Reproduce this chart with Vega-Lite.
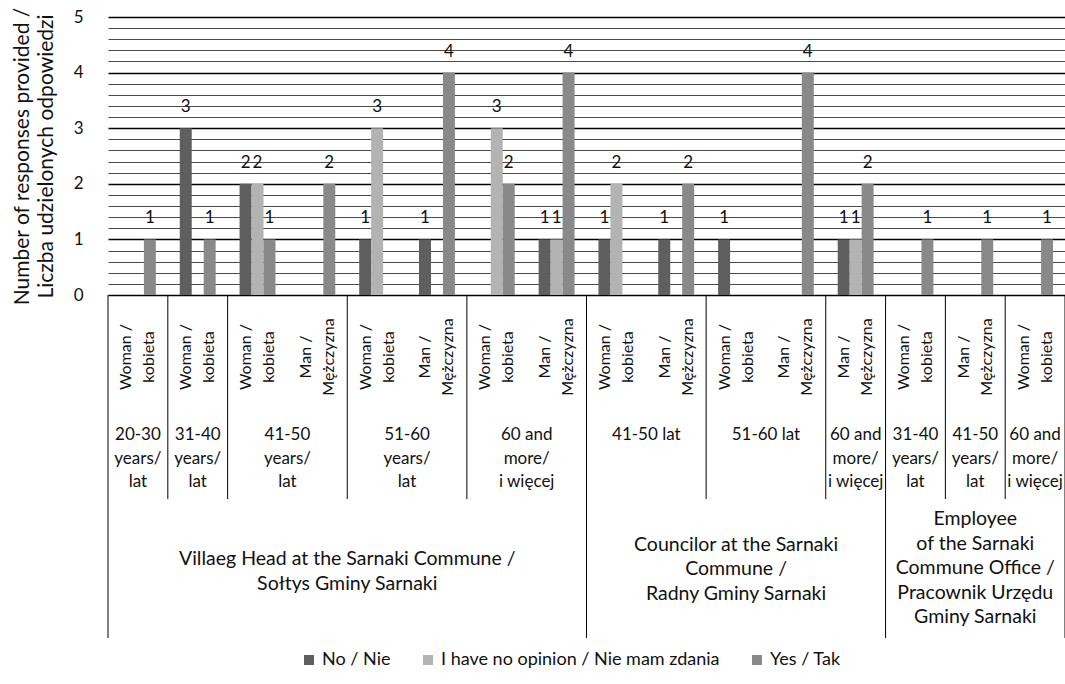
{
  "$schema": "https://vega.github.io/schema/vega-lite/v6.json",
  "padding": {"top": 6, "left": 11, "right": 0, "bottom": 5},
  "background": "white",
  "bounds": "flush",
  "spacing": 0,
  "config": {
    "font": "Lato",
    "view": {"stroke": null},
    "text": {"font": "Lato", "fontSize": 17, "color": "#111111"},
    "legend": {"labelFont": "Lato", "labelFontSize": 18, "labelColor": "#111111"}
  },
  "datasets": {
    "bars": [
      {"leaf": 1, "answer": "Yes / Tak", "n": 1},
      {"leaf": 2, "answer": "No / Nie", "n": 3},
      {"leaf": 2, "answer": "Yes / Tak", "n": 1},
      {"leaf": 3, "answer": "No / Nie", "n": 2},
      {"leaf": 3, "answer": "I have no opinion / Nie mam zdania", "n": 2},
      {"leaf": 3, "answer": "Yes / Tak", "n": 1},
      {"leaf": 4, "answer": "Yes / Tak", "n": 2},
      {"leaf": 5, "answer": "No / Nie", "n": 1},
      {"leaf": 5, "answer": "I have no opinion / Nie mam zdania", "n": 3},
      {"leaf": 6, "answer": "No / Nie", "n": 1},
      {"leaf": 6, "answer": "Yes / Tak", "n": 4},
      {"leaf": 7, "answer": "I have no opinion / Nie mam zdania", "n": 3},
      {"leaf": 7, "answer": "Yes / Tak", "n": 2},
      {"leaf": 8, "answer": "No / Nie", "n": 1},
      {"leaf": 8, "answer": "I have no opinion / Nie mam zdania", "n": 1},
      {"leaf": 8, "answer": "Yes / Tak", "n": 4},
      {"leaf": 9, "answer": "No / Nie", "n": 1},
      {"leaf": 9, "answer": "I have no opinion / Nie mam zdania", "n": 2},
      {"leaf": 10, "answer": "No / Nie", "n": 1},
      {"leaf": 10, "answer": "Yes / Tak", "n": 2},
      {"leaf": 11, "answer": "No / Nie", "n": 1},
      {"leaf": 12, "answer": "Yes / Tak", "n": 4},
      {"leaf": 13, "answer": "No / Nie", "n": 1},
      {"leaf": 13, "answer": "I have no opinion / Nie mam zdania", "n": 1},
      {"leaf": 13, "answer": "Yes / Tak", "n": 2},
      {"leaf": 14, "answer": "Yes / Tak", "n": 1},
      {"leaf": 15, "answer": "Yes / Tak", "n": 1},
      {"leaf": 16, "answer": "Yes / Tak", "n": 1}
    ],
    "leaves": [
      {"leaf": 1, "gender": "Woman /\nkobieta", "age": "20-30\nyears/\nlat", "role": "Villaeg Head at the Sarnaki Commune /\nSołtys Gminy Sarnaki"},
      {"leaf": 2, "gender": "Woman /\nkobieta", "age": "31-40\nyears/\nlat", "role": "Villaeg Head at the Sarnaki Commune /\nSołtys Gminy Sarnaki"},
      {"leaf": 3, "gender": "Woman /\nkobieta", "age": "41-50\nyears/\nlat", "role": "Villaeg Head at the Sarnaki Commune /\nSołtys Gminy Sarnaki"},
      {"leaf": 4, "gender": "Man /\nMężczyzna", "age": "41-50\nyears/\nlat", "role": "Villaeg Head at the Sarnaki Commune /\nSołtys Gminy Sarnaki"},
      {"leaf": 5, "gender": "Woman /\nkobieta", "age": "51-60\nyears/\nlat", "role": "Villaeg Head at the Sarnaki Commune /\nSołtys Gminy Sarnaki"},
      {"leaf": 6, "gender": "Man /\nMężczyzna", "age": "51-60\nyears/\nlat", "role": "Villaeg Head at the Sarnaki Commune /\nSołtys Gminy Sarnaki"},
      {"leaf": 7, "gender": "Woman /\nkobieta", "age": "60 and\nmore/\ni więcej", "role": "Villaeg Head at the Sarnaki Commune /\nSołtys Gminy Sarnaki"},
      {"leaf": 8, "gender": "Man /\nMężczyzna", "age": "60 and\nmore/\ni więcej", "role": "Villaeg Head at the Sarnaki Commune /\nSołtys Gminy Sarnaki"},
      {"leaf": 9, "gender": "Woman /\nkobieta", "age": "41-50 lat", "role": "Councilor at the Sarnaki\nCommune /\nRadny Gminy Sarnaki"},
      {"leaf": 10, "gender": "Man /\nMężczyzna", "age": "41-50 lat", "role": "Councilor at the Sarnaki\nCommune /\nRadny Gminy Sarnaki"},
      {"leaf": 11, "gender": "Woman /\nkobieta", "age": "51-60 lat", "role": "Councilor at the Sarnaki\nCommune /\nRadny Gminy Sarnaki"},
      {"leaf": 12, "gender": "Man /\nMężczyzna", "age": "51-60 lat", "role": "Councilor at the Sarnaki\nCommune /\nRadny Gminy Sarnaki"},
      {"leaf": 13, "gender": "Man /\nMężczyzna", "age": "60 and\nmore/\ni więcej", "role": "Councilor at the Sarnaki\nCommune /\nRadny Gminy Sarnaki"},
      {"leaf": 14, "gender": "Woman /\nkobieta", "age": "31-40\nyears/\nlat", "role": "Employee\nof the Sarnaki\nCommune Office /\nPracownik Urzędu\nGminy Sarnaki"},
      {"leaf": 15, "gender": "Man /\nMężczyzna", "age": "41-50\nyears/\nlat", "role": "Employee\nof the Sarnaki\nCommune Office /\nPracownik Urzędu\nGminy Sarnaki"},
      {"leaf": 16, "gender": "Woman /\nkobieta", "age": "60 and\nmore/\ni więcej", "role": "Employee\nof the Sarnaki\nCommune Office /\nPracownik Urzędu\nGminy Sarnaki"}
    ],
    "bounds": [
      {"at": 0.5, "level": "role"},
      {"at": 1.5, "level": "age"},
      {"at": 2.5, "level": "age"},
      {"at": 4.5, "level": "age"},
      {"at": 6.5, "level": "age"},
      {"at": 8.5, "level": "role"},
      {"at": 10.5, "level": "age"},
      {"at": 12.5, "level": "age"},
      {"at": 13.5, "level": "role"},
      {"at": 14.5, "level": "age"},
      {"at": 15.5, "level": "age"},
      {"at": 16.5, "level": "role"}
    ]
  },
  "vconcat": [
    {
      "width": 957,
      "height": 278,
      "data": {"name": "bars"},
      "encoding": {
        "x": {"field": "leaf", "type": "ordinal", "scale": {"paddingInner": 0.4, "paddingOuter": 0.2}, "axis": null},
        "xOffset": {"field": "answer", "type": "nominal", "scale": {"domain": ["No / Nie", "I have no opinion / Nie mam zdania", "Yes / Tak"]}},
        "y": {
          "field": "n", "type": "quantitative",
          "scale": {"domain": [0, 5], "nice": false},
          "axis": {
            "values": [0, 0.2, 0.4, 0.6, 0.8, 1, 1.2, 1.4, 1.6, 1.8, 2, 2.2, 2.4, 2.6, 2.8, 3, 3.2, 3.4, 3.6, 3.8, 4, 4.2, 4.4, 4.6, 4.8, 5],
            "labelExpr": "datum.value % 1 === 0 ? '' + datum.value : ''",
            "labelOverlap": false,
            "labelFont": "Lato", "labelFontSize": 17, "labelColor": "#111111", "labelPadding": 25,
            "ticks": false, "domain": false,
            "grid": true,
            "gridColor": {"condition": {"test": "datum.value % 1 === 0", "value": "#000000"}, "value": "#4a4a4a"},
            "gridWidth": {"condition": {"test": "datum.value % 1 === 0", "value": 1.6}, "value": 1},
            "title": ["Number of responses provided /", "Liczba udzielonych odpowiedzi"],
            "titleFont": "Lato", "titleFontSize": 21, "titleFontWeight": "normal", "titleColor": "#111111",
            "titleLineHeight": 23.5, "titlePadding": 17
          }
        }
      },
      "layer": [
        {
          "mark": {"type": "bar"},
          "encoding": {
            "color": {
              "field": "answer", "type": "nominal",
              "scale": {"domain": ["No / Nie", "I have no opinion / Nie mam zdania", "Yes / Tak"], "range": ["#5f5f5f", "#b3b3b3", "#898989"]},
              "legend": {"title": null, "orient": "none", "legendX": 192, "legendY": 634, "direction": "horizontal", "symbolType": "square", "symbolSize": 100, "symbolStrokeWidth": 0, "columnPadding": 28, "labelLimit": 0}
            }
          }
        },
        {
          "mark": {"type": "text", "baseline": "alphabetic", "dy": -16},
          "encoding": {"text": {"field": "n", "type": "quantitative"}}
        }
      ]
    },
    {
      "width": 957,
      "height": 124,
      "layer": [
        {
          "data": {"name": "leaves"},
          "mark": {"type": "text", "angle": 270, "align": "center", "baseline": "middle", "lineBreak": "\n", "lineHeight": 23, "dy": -11.5, "fontSize": 16},
          "encoding": {
            "x": {"field": "leaf", "type": "quantitative", "scale": {"domain": [0.5, 16.5], "nice": false, "zero": false}, "axis": null},
            "text": {"field": "gender", "type": "nominal"}
          }
        },
        {
          "data": {"name": "bounds"},
          "mark": {"type": "rule", "color": "#000000", "strokeWidth": 1},
          "encoding": {
            "x": {"field": "at", "type": "quantitative", "scale": {"domain": [0.5, 16.5], "nice": false, "zero": false}, "axis": null}
          }
        }
      ]
    },
    {
      "width": 957,
      "height": 80,
      "layer": [
        {
          "data": {"name": "leaves"},
          "mark": {"type": "text", "align": "center", "baseline": "middle", "lineBreak": "\n", "lineHeight": 23.5, "dy": -24, "fontSize": 17},
          "encoding": {
            "x": {"aggregate": "mean", "field": "leaf", "type": "quantitative", "scale": {"domain": [0.5, 16.5], "nice": false, "zero": false}, "axis": null},
            "text": {"field": "age", "type": "nominal"},
            "detail": {"field": "role", "type": "nominal"}
          }
        },
        {
          "data": {"name": "bounds"},
          "mark": {"type": "rule", "color": "#000000", "strokeWidth": 1},
          "encoding": {
            "x": {"field": "at", "type": "quantitative", "scale": {"domain": [0.5, 16.5], "nice": false, "zero": false}, "axis": null}
          }
        }
      ]
    },
    {
      "width": 957,
      "height": 139,
      "layer": [
        {
          "data": {"name": "leaves"},
          "transform": [{"filter": "datum.leaf <= 8"}],
          "mark": {"type": "text", "align": "center", "baseline": "middle", "lineBreak": "\n", "lineHeight": 24.5, "dy": -9.5, "fontSize": 19.5},
          "encoding": {
            "x": {"aggregate": "mean", "field": "leaf", "type": "quantitative", "scale": {"domain": [0.5, 16.5], "nice": false, "zero": false}, "axis": null},
            "text": {"field": "role", "type": "nominal"}
          }
        },
        {
          "data": {"name": "leaves"},
          "transform": [{"filter": "datum.leaf > 8 && datum.leaf <= 13"}],
          "mark": {"type": "text", "align": "center", "baseline": "middle", "lineBreak": "\n", "lineHeight": 24.5, "dy": -24, "fontSize": 19.5},
          "encoding": {
            "x": {"aggregate": "mean", "field": "leaf", "type": "quantitative", "scale": {"domain": [0.5, 16.5], "nice": false, "zero": false}, "axis": null},
            "text": {"field": "role", "type": "nominal"}
          }
        },
        {
          "data": {"name": "leaves"},
          "transform": [{"filter": "datum.leaf > 13"}],
          "mark": {"type": "text", "align": "center", "baseline": "middle", "lineBreak": "\n", "lineHeight": 24.5, "dy": -49.5, "fontSize": 19.5},
          "encoding": {
            "x": {"aggregate": "mean", "field": "leaf", "type": "quantitative", "scale": {"domain": [0.5, 16.5], "nice": false, "zero": false}, "axis": null},
            "text": {"field": "role", "type": "nominal"}
          }
        },
        {
          "data": {"name": "bounds"},
          "transform": [{"filter": "datum.level === 'role'"}],
          "mark": {"type": "rule", "color": "#000000", "strokeWidth": 1},
          "encoding": {
            "x": {"field": "at", "type": "quantitative", "scale": {"domain": [0.5, 16.5], "nice": false, "zero": false}, "axis": null}
          }
        }
      ]
    }
  ]
}
